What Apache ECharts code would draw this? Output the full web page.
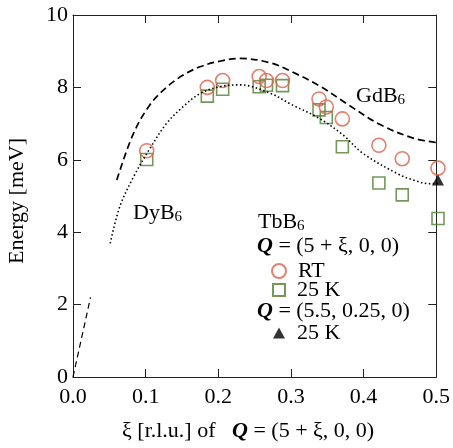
<!DOCTYPE html>
<html><head><meta charset="utf-8">
<script src="https://cdn.jsdelivr.net/npm/echarts@6/dist/echarts.min.js"></script>
<style>
html,body{margin:0;padding:0;background:#fff}
#wrap{position:relative;width:453px;height:448px}
#axes,#c{position:absolute;left:0;top:0;width:453px;height:448px}
</style>
</head><body><div id="wrap"><div id="axes"></div><div id="c"></div></div>
<script>
// TbB6 measured points, Q = (5+xi,0,0)
const xi   = [0.101,0.184,0.205,0.255,0.265,0.287,0.337,0.347,0.369,0.419,0.451,0.500];
const rtE  = [6.25, 8.00, 8.19, 8.30, 8.19, 8.19, 7.68, 7.46, 7.13, 6.40, 6.03, 5.77];
const k25E = [6.01, 7.76, 7.95, 8.02, 8.06, 8.05, 7.38, 7.17, 6.36, 5.36, 5.03, 4.38];
// Q = (5.5,0.25,0), 25 K
const triX = [0.5];
const triE = [5.44];
// GdB6 dispersion (dashed)
const gdX = [0.060,0.082,0.105,0.129,0.151,0.174,0.200,0.229,0.270,0.300,0.337,0.375,0.420,0.466,0.500];
const gdE = [5.44, 6.69, 7.51, 8.02, 8.34, 8.57, 8.72, 8.80, 8.68, 8.43, 8.05, 7.55, 6.98, 6.60, 6.47];
// GdB6 acoustic branch (dashed)
const acX = [0.0, 0.024];
const acE = [0.0, 2.20];
// DyB6 dispersion (dotted)
const dyX = [0.051,0.064,0.083,0.105,0.128,0.151,0.174,0.201,0.229,0.270,0.300,0.337,0.369,0.397,0.444,0.466,0.489,0.500];
const dyE = [3.69, 4.70, 5.53, 6.30, 7.00, 7.47, 7.83, 8.02, 8.07, 7.84, 7.52, 7.15, 6.70, 6.18, 5.62, 5.44, 5.34, 5.35];
const xTicks = ['0.0','0.1','0.2','0.3','0.4','0.5'];
const yTicks = ['0','2','4','6','8','10'];

const zip = (a,b)=>a.map((v,i)=>[v,b[i]]);
const FONT = '"Liberation Serif",serif';
const FS = 22;
const RED = '#e0604a', GREEN = '#4f8030', AX = '#222';
const GRID = () => ({left:73,right:15,top:15,bottom:71});
const mkRich = () => ({
  n:{fontFamily:FONT,fontSize:FS,color:'#000'},
  q:{fontFamily:FONT,fontSize:FS,color:'#000',fontStyle:'italic',fontWeight:'bold'},
  s:{fontFamily:FONT,fontSize:15,color:'#000',verticalAlign:'bottom',padding:[8,0,0,0]}
});

// Layer 1: frame, ticks and tick labels
function axis(extra){
  return Object.assign({
    min:0,
    axisLine:{show:true,onZero:false,lineStyle:{color:AX,width:1}},
    axisTick:{show:true,inside:true,length:8,lineStyle:{color:AX,width:1}},
    splitLine:{show:false}
  }, extra);
}
const axesChart = echarts.init(document.getElementById('axes'));
axesChart.setOption({
  animation:false,
  grid:GRID(),
  xAxis:[
    axis({type:'value',max:0.5,interval:0.1,
      axisLabel:{fontFamily:FONT,fontSize:FS,color:'#000',margin:9,formatter:v=>xTicks[Math.round(v*10)]}}),
    axis({type:'value',position:'top',max:0.5,interval:0.1,axisLabel:{show:false}})
  ],
  yAxis:[
    axis({type:'value',max:10,interval:2,
      axisLabel:{fontFamily:FONT,fontSize:FS,color:'#000',margin:5,formatter:v=>yTicks[Math.round(v/2)]}}),
    axis({type:'value',position:'right',max:10,interval:2,axisLabel:{show:false}})
  ],
  series:[{type:'scatter',data:[],silent:true}]
});

// Layer 2: data, legend and texts (same grid and scales, axes hidden)
const legText = () => ({fontFamily:FONT,fontSize:FS,color:'#000',lineHeight:14,padding:[0,0,0,7]});
const chart = echarts.init(document.getElementById('c'));
chart.setOption({
  animation:false,
  backgroundColor:'transparent',
  grid:GRID(),
  xAxis:{type:'value',min:0,max:0.5,interval:0.1,show:false},
  yAxis:{type:'value',min:0,max:10,interval:2,show:false},
  legend:[
    {left:271,top:260,padding:0,itemWidth:14,itemHeight:14,textStyle:legText(),
     data:[{name:'RT',icon:'circle'}]},
    {left:272,top:279,padding:0,itemWidth:12,itemHeight:12,textStyle:legText(),
     data:[{name:'25 K',icon:'rect'}]},
    {left:273,top:322,padding:0,itemWidth:12,itemHeight:11,textStyle:legText(),
     data:[{name:'25 K ',icon:'triangle'}]}
  ],
  series:[
    {type:'line',data:zip(acX,acE),showSymbol:false,silent:true,
     lineStyle:{color:'#000',width:1.2,type:[6,4]}},
    {type:'line',data:zip(gdX,gdE),showSymbol:false,smooth:0.35,silent:true,
     lineStyle:{color:'#000',width:1.7,type:[7,4]}},
    {type:'line',data:zip(dyX,dyE),showSymbol:false,smooth:0.35,silent:true,
     lineStyle:{color:'#000',width:1.6,type:[1.5,2.5]}},
    {name:'25 K',type:'scatter',data:zip(xi,k25E),symbol:'rect',symbolSize:12,clip:false,
     itemStyle:{color:'rgba(255,255,255,0)',borderColor:GREEN,borderWidth:1.6}},
    {name:'RT',type:'scatter',data:zip(xi,rtE),symbol:'circle',symbolSize:14,clip:false,
     itemStyle:{color:'rgba(255,255,255,0)',borderColor:RED,borderWidth:1.6}},
    {name:'25 K ',type:'scatter',data:zip(triX,triE),symbol:'triangle',symbolSize:[12,11],clip:false,
     itemStyle:{color:'#000'}}
  ],
  graphic:[
    {type:'text',left:356,top:85,style:{rich:mkRich(),text:'{n|GdB}{s|6}'}},
    {type:'text',left:133,top:202,style:{rich:mkRich(),text:'{n|DyB}{s|6}'}},
    {type:'text',left:258,top:211,style:{rich:mkRich(),text:'{n|TbB}{s|6}'}},
    {type:'text',left:257,top:235,style:{rich:mkRich(),text:'{q|Q}{n| = (5 + ξ, 0, 0)}'}},
    {type:'text',left:257,top:300,style:{rich:mkRich(),text:'{q|Q}{n| = (5.5, 0.25, 0)}'}},
    {type:'text',left:122,top:420,style:{rich:mkRich(),text:'{n|ξ [r.l.u.] of   }{q|Q}{n| = (5 + ξ, 0, 0)}'}},
    {type:'text',x:17,y:201,rotation:Math.PI/2,style:{text:'Energy [meV]',fontFamily:FONT,fontSize:FS,fill:'#000',align:'center',verticalAlign:'middle'}}
  ]
});
</script></body></html>
